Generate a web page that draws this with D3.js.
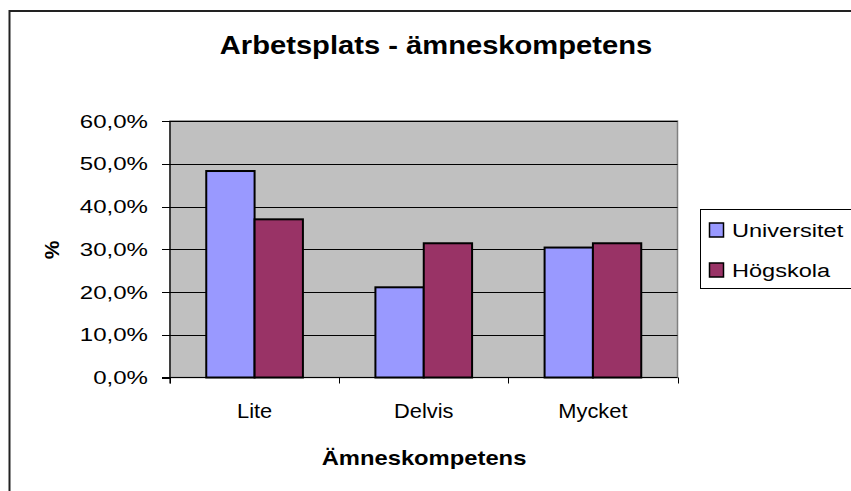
<!DOCTYPE html>
<html>
<head>
<meta charset="utf-8">
<script src="https://cdn.jsdelivr.net/npm/d3@7"></script>
<style>
  body { margin: 0; background: #fff; }
  text { font-family: "Liberation Sans", Arial, sans-serif; fill: #000; }
</style>
</head>
<body>
<svg width="851" height="491"></svg>
<script>
// data (percent)
var categories = ["Lite", "Delvis", "Mycket"];
var seriesNames = ["Universitet", "Högskola"];
var universitet = [48.3, 21.1, 30.4];
var hogskola = [37.0, 31.4, 31.4];
var yTicks = [0, 10, 20, 30, 40, 50, 60];
var colors = ["#9999FF", "#993366"];

var svg = d3.select("svg"),
    width = +svg.attr("width"),
    height = +svg.attr("height");

// plot area
var plotLeft = 170, plotRight = 677.5, plotTop = 121, plotBottom = 377.5;

// outer chart frame (runs off the picture on right and bottom)
svg.append("rect")
    .attr("x", 9.5).attr("y", 11)
    .attr("width", 860).attr("height", 500)
    .attr("fill", "#fff")
    .attr("stroke", "#222").attr("stroke-width", 2);

var y = d3.scaleLinear().domain([0, 60]).range([plotBottom, plotTop]);
var x0 = d3.scaleBand().domain(categories).range([plotLeft, plotRight]);
var x1 = d3.scaleBand().domain(seriesNames)
    .range([0, x0.bandwidth()]).paddingOuter(0.75);

// grey plot background
svg.append("rect")
    .attr("x", plotLeft).attr("y", plotTop)
    .attr("width", plotRight - plotLeft).attr("height", plotBottom - plotTop)
    .attr("fill", "#C0C0C0")
    .attr("stroke", "#808080").attr("stroke-width", 1.5);

// gridlines
svg.append("g")
  .selectAll("line")
  .data(yTicks.filter(function(d) { return d > 0; }))
  .enter().append("line")
    .attr("x1", plotLeft).attr("x2", plotRight)
    .attr("y1", function(d) { return Math.round(y(d)) + 0.5; })
    .attr("y2", function(d) { return Math.round(y(d)) + 0.5; })
    .attr("stroke", "#000").attr("stroke-width", 1);

// bars
var rows = categories.map(function(c, i) {
  return { cat: c, values: [universitet[i], hogskola[i]] };
});
var groups = svg.append("g")
  .selectAll("g")
  .data(rows)
  .enter().append("g")
    .attr("transform", function(d) { return "translate(" + x0(d.cat) + ",0)"; });
groups.selectAll("rect")
  .data(function(d) { return d.values.map(function(v, j) { return { s: seriesNames[j], v: v, j: j }; }); })
  .enter().append("rect")
    .attr("x", function(d) { return x1(d.s); })
    .attr("y", function(d) { return y(d.v); })
    .attr("width", x1.bandwidth())
    .attr("height", function(d) { return plotBottom - y(d.v); })
    .attr("fill", function(d) { return colors[d.j]; })
    .attr("stroke", "#000").attr("stroke-width", 2);

// y axis
var yAxis = svg.append("g");
yAxis.append("line")
    .attr("x1", plotLeft).attr("x2", plotLeft)
    .attr("y1", plotTop).attr("y2", plotBottom + 6)
    .attr("stroke", "#000").attr("stroke-width", 1.2);
yAxis.selectAll("line.tick")
  .data(yTicks)
  .enter().append("line")
    .attr("class", "tick")
    .attr("x1", plotLeft - 8).attr("x2", plotLeft)
    .attr("y1", function(d) { return Math.round(y(d)) + 0.5; })
    .attr("y2", function(d) { return Math.round(y(d)) + 0.5; })
    .attr("stroke", "#000").attr("stroke-width", 1);
yAxis.selectAll("text")
  .data(yTicks)
  .enter().append("text")
    .attr("text-anchor", "end")
    .attr("font-size", 18.5)
    .attr("transform", function(d) { return "translate(148," + (y(d) + 6.5) + ") scale(1.3,1)"; })
    .text(function(d) { return d.toFixed(1).replace(".", ",") + "%"; });

// x axis
var xAxis = svg.append("g");
xAxis.append("line")
    .attr("x1", plotLeft - 8).attr("x2", plotRight)
    .attr("y1", plotBottom).attr("y2", plotBottom)
    .attr("stroke", "#000").attr("stroke-width", 1.2);
xAxis.selectAll("line.tick")
  .data(categories.concat(["end"]))
  .enter().append("line")
    .attr("class", "tick")
    .attr("x1", function(d, i) { return Math.round(plotLeft + i * x0.step()) + 0.5; })
    .attr("x2", function(d, i) { return Math.round(plotLeft + i * x0.step()) + 0.5; })
    .attr("y1", plotBottom).attr("y2", plotBottom + 6)
    .attr("stroke", "#000").attr("stroke-width", 1);
xAxis.selectAll("text")
  .data(categories)
  .enter().append("text")
    .attr("text-anchor", "middle")
    .attr("font-size", 19.5)
    .attr("transform", function(d) { return "translate(" + (x0(d) + x0.bandwidth() / 2) + ",418) scale(1.12,1)"; })
    .text(function(d) { return d; });

// titles
svg.append("text")
    .attr("text-anchor", "middle")
    .attr("font-size", 26.5).attr("font-weight", "bold")
    .attr("transform", "translate(436,54) scale(1.1,1)")
    .text("Arbetsplats - ämneskompetens");
svg.append("text")
    .attr("text-anchor", "middle")
    .attr("font-size", 20.5).attr("font-weight", "bold")
    .attr("transform", "translate(424,465) scale(1.16,1)")
    .text("Ämneskompetens");
svg.append("text")
    .attr("text-anchor", "middle")
    .attr("font-size", 21).attr("font-weight", "bold")
    .attr("transform", "translate(59,250) rotate(-90)")
    .text("%");

// legend
var legend = svg.append("g");
legend.append("rect")
    .attr("x", 700.5).attr("y", 209.5)
    .attr("width", 160).attr("height", 79)
    .attr("fill", "#fff")
    .attr("stroke", "#000").attr("stroke-width", 1);
var items = legend.selectAll("g")
  .data(seriesNames)
  .enter().append("g")
    .attr("transform", function(d, i) { return "translate(0," + (i * 40) + ")"; });
items.append("rect")
    .attr("x", 709.5).attr("y", 223)
    .attr("width", 14).attr("height", 14)
    .attr("fill", function(d, i) { return colors[i]; })
    .attr("stroke", "#000").attr("stroke-width", 1.5);
items.append("text")
    .attr("font-size", 19)
    .attr("transform", "translate(732,237) scale(1.24,1)")
    .text(function(d) { return d; });
</script>
</body>
</html>
